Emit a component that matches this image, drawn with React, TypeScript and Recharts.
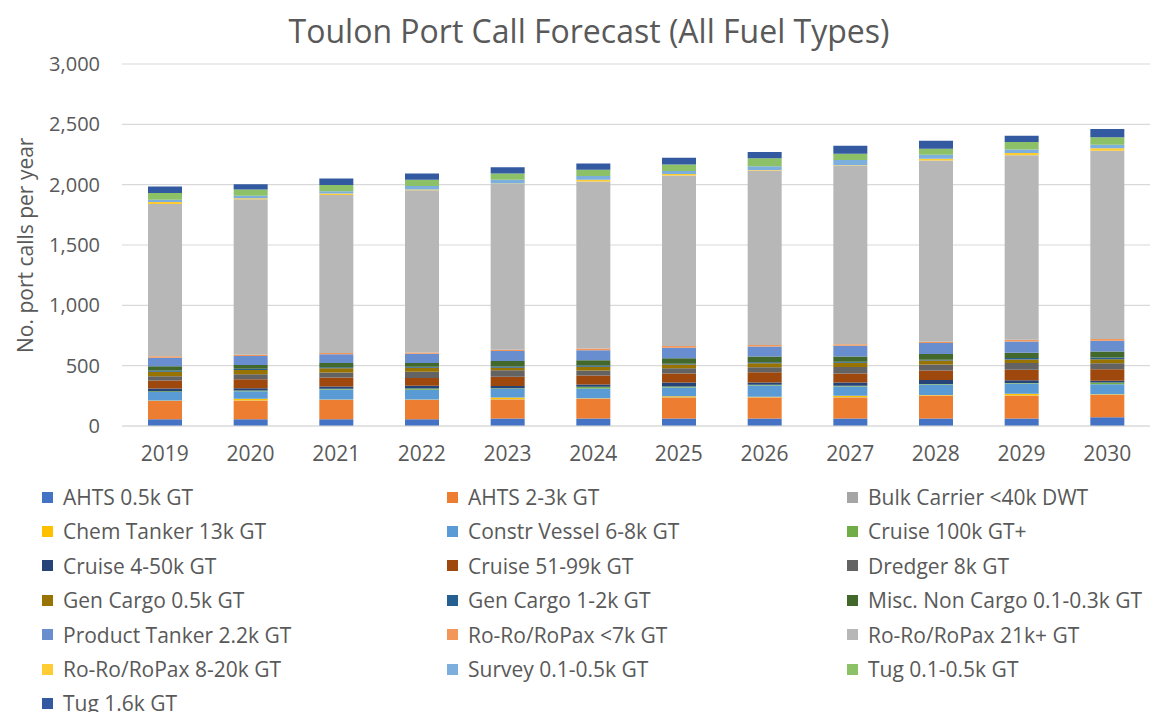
import React from 'react';
import { BarChart, Bar, XAxis, YAxis, CartesianGrid } from 'recharts';

const years = ['2019', '2020', '2021', '2022', '2023', '2024', '2025', '2026', '2027', '2028', '2029', '2030'];
const yTicks = [0, 500, 1000, 1500, 2000, 2500, 3000];

const ahts05 = [55, 55, 55, 55, 63, 63, 63, 63, 63, 63, 63, 72];
const ahts23 = [152, 155, 160, 160, 157, 163, 174, 174, 174, 188, 188, 185];
const bulk = [2, 2, 2, 2, 2, 2, 2, 2, 2, 2, 2, 2];
const chem = [3, 14, 3, 3, 14, 3, 8, 3, 12, 3, 14, 5];
const constr = [69, 61, 83, 80, 72, 80, 72, 94, 77, 88, 85, 83];
const cruise100 = [8, 8, 5, 11, 5, 14, 8, 5, 5, 5, 5, 14];
const cruise450 = [22, 17, 19, 22, 19, 19, 33, 19, 28, 33, 22, 14];
const cruise5199 = [66, 75, 75, 64, 77, 75, 75, 86, 75, 77, 88, 95];
const dredger = [36, 41, 41, 52, 52, 41, 44, 41, 52, 50, 55, 50];
const gen05 = [36, 36, 36, 33, 22, 30, 30, 33, 36, 33, 30, 33];
const gen12 = [11, 11, 8, 8, 11, 11, 6, 8, 8, 8, 11, 14];
const misc = [36, 30, 36, 33, 44, 44, 47, 47, 44, 47, 44, 50];
const product = [69, 75, 72, 75, 83, 83, 86, 83, 90, 91, 94, 90];
const roroLt7 = [14, 11, 11, 11, 11, 14, 14, 14, 11, 11, 14, 14];
const roro21 = [1260, 1288, 1309, 1345, 1373, 1385, 1415, 1445, 1479, 1501, 1528, 1561];
const roro820 = [17, 8, 11, 5, 5, 14, 11, 5, 5, 14, 19, 19];
const survey = [19, 22, 19, 30, 30, 30, 25, 30, 44, 33, 30, 30];
const tug0105 = [55, 50, 52, 52, 52, 52, 55, 66, 52, 50, 61, 61];
const tug16 = [55, 44, 55, 52, 52, 52, 55, 52, 66, 66, 52, 69];

const seriesNames = [
  'AHTS 0.5k GT', 'AHTS 2-3k GT', 'Bulk Carrier <40k DWT', 'Chem Tanker 13k GT', 'Constr Vessel 6-8k GT',
  'Cruise 100k GT+', 'Cruise 4-50k GT', 'Cruise 51-99k GT', 'Dredger 8k GT', 'Gen Cargo 0.5k GT',
  'Gen Cargo 1-2k GT', 'Misc. Non Cargo 0.1-0.3k GT', 'Product Tanker 2.2k GT', 'Ro-Ro/RoPax <7k GT',
  'Ro-Ro/RoPax 21k+ GT', 'Ro-Ro/RoPax 8-20k GT', 'Survey 0.1-0.5k GT', 'Tug 0.1-0.5k GT', 'Tug 1.6k GT',
];
const seriesValues = [
  ahts05, ahts23, bulk, chem, constr, cruise100, cruise450, cruise5199, dredger, gen05,
  gen12, misc, product, roroLt7, roro21, roro820, survey, tug0105, tug16,
];
const seriesColors = [
  '#4472C4', '#ED7D31', '#A5A5A5', '#FFC000', '#5B9BD5', '#70AD47', '#264478', '#9E480E', '#636363', '#997300',
  '#255E91', '#43682B', '#698ED0', '#F1975A', '#B7B7B7', '#FFCD33', '#7CAFDD', '#8CC168', '#335AA1',
];

const data = years.map((y, i) => {
  const row: Record<string, any> = { year: y };
  seriesNames.forEach((n, k) => {
    row['s' + k] = seriesValues[k][i];
  });
  return row;
});

const FONT = '"Open Sans", sans-serif';
const TXT = '#595959';

const LegendBlock = () => (
  <div style={{ position: 'absolute', left: 0, top: 480, width: 1158, height: 232, fontFamily: FONT }}>
    {seriesNames.map((n, k) => {
      const col = k % 3;
      const row = Math.floor(k / 3);
      const left = [42, 447, 847][col];
      const top = 2 + row * 34.4;
      return (
        <div key={n} style={{ position: 'absolute', left, top, height: 30, display: 'flex', alignItems: 'center' }}>
          <div style={{ width: 11, height: 11, background: seriesColors[k], marginRight: 10 }} />
          <span style={{ fontSize: 21, color: TXT, whiteSpace: 'nowrap', lineHeight: '30px' }}>{n}</span>
        </div>
      );
    })}
  </div>
);

const fmt = (v: number) => v.toLocaleString('en-US');

export default function App() {
  return (
    <div style={{ position: 'absolute', left: 0, top: 0, width: 1158, height: 712, background: '#fff', fontFamily: FONT, overflow: 'hidden' }}>
      <div style={{ position: 'absolute', left: 0, top: 11, width: 1178, textAlign: 'center', fontSize: 32, color: TXT, lineHeight: '40px' }}>
        Toulon Port Call Forecast (All Fuel Types)
      </div>
      <BarChart width={1158} height={712} data={data} margin={{ top: 64, right: 8, bottom: 256, left: 0 }}>
        <CartesianGrid vertical={false} stroke="#D9D9D9" strokeWidth={1.2} />
        <XAxis
          dataKey="year"
          height={30}
          axisLine={{ stroke: '#D9D9D9', strokeWidth: 1.2 }}
          tickLine={false}
          tickSize={0}
          tickMargin={20}
          tick={{ fill: TXT, fontSize: 21, fontFamily: FONT }}
        />
        <YAxis
          width={122}
          domain={[0, 3000]}
          ticks={yTicks}
          tickFormatter={fmt}
          axisLine={false}
          tickLine={false}
          tickSize={0}
          tickMargin={22}
          tick={{ fill: TXT, fontSize: 20, fontFamily: FONT }}
          label={{
            value: 'No. port calls per year',
            angle: -90,
            position: 'insideLeft',
            dx: 21,
            dy: 108,
            style: { fill: TXT, fontSize: 21, fontFamily: FONT },
          }}
        />
        {seriesNames.map((n, k) => (
          <Bar key={n} dataKey={'s' + k} name={n} stackId="a" fill={seriesColors[k]} barSize={34} isAnimationActive={false} />
        ))}
      </BarChart>
      <LegendBlock />
    </div>
  );
}
